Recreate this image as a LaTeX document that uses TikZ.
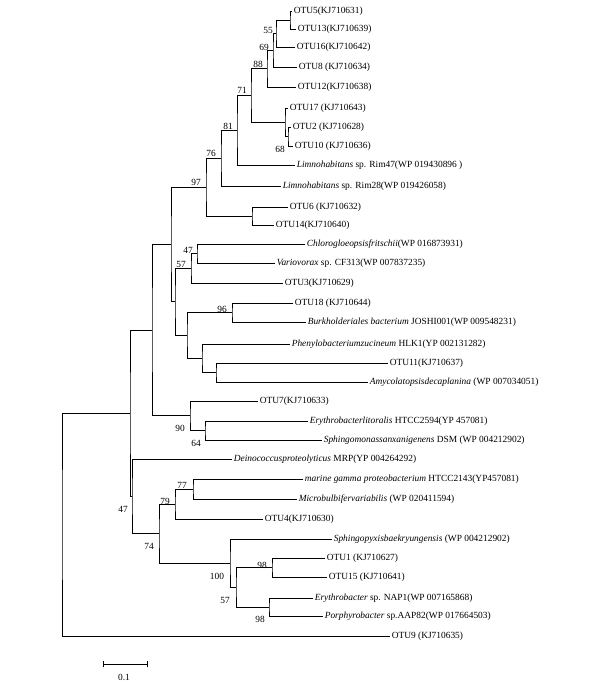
\documentclass[tikz,border=0pt]{standalone}
\usepackage{fontspec}
\setmainfont{Liberation Serif}
\begin{document}
\begin{tikzpicture}[x=1pt,y=-1pt,
  br/.style={line width=0.8pt,black},
  leaf/.style={anchor=west,inner sep=1.6pt,font=\fontsize{9.4}{11}\selectfont},
  bs/.style={inner sep=0pt,font=\fontsize{9.4}{11}\selectfont}]
\useasboundingbox (0,0) rectangle (604,687);
% leaves
\node[leaf] (otu5) at (292,11) {OTU5(KJ710631)};
\node[leaf] (otu13) at (296,29) {OTU13(KJ710639)};
\node[leaf] (otu16) at (295,47) {OTU16(KJ710642)};
\node[leaf] (otu8) at (297,67) {OTU8 (KJ710634)};
\node[leaf] (otu12) at (296,87) {OTU12(KJ710638)};
\node[leaf] (otu17) at (288,108) {OTU17 (KJ710643)};
\node[leaf] (otu2) at (291,127) {OTU2 (KJ710628)};
\node[leaf] (otu10) at (293,146) {OTU10 (KJ710636)};
\node[leaf] (rim47) at (295,165) {\itshape Limnohabitans\upshape{} sp. Rim47(WP 019430896 )};
\node[leaf] (rim28) at (281,186) {\itshape Limnohabitans\upshape{} sp. Rim28(WP 019426058)};
\node[leaf] (otu6) at (288,207) {OTU6 (KJ710632)};
\node[leaf] (otu14) at (274,225) {OTU14(KJ710640)};
\node[leaf] (chloro) at (305,244) {\itshape Chlorogloeopsisfritschii\upshape(WP 016873931)};
\node[leaf] (vario) at (275,263) {\itshape Variovorax\upshape{} sp. CF313(WP 007837235)};
\node[leaf] (otu3) at (283,283) {OTU3(KJ710629)};
\node[leaf] (otu18) at (293,303) {OTU18 (KJ710644)};
\node[leaf] (burk) at (306,322) {\itshape Burkholderiales bacterium\upshape{} JOSHI001(WP 009548231)};
\node[leaf] (pheny) at (290,344) {\itshape Phenylobacteriumzucineum\upshape{} HLK1(YP 002131282)};
\node[leaf] (otu11) at (388,363) {OTU11(KJ710637)};
\node[leaf] (amyco) at (368,382) {\itshape Amycolatopsisdecaplanina\upshape{} (WP 007034051)};
\node[leaf] (otu7) at (258,401) {OTU7(KJ710633)};
\node[leaf] (erylit) at (308,421) {\itshape Erythrobacterlitoralis\upshape{} HTCC2594(YP 457081)};
\node[leaf] (sphmon) at (322,440) {\itshape Sphingomonassanxanigenens\upshape{} DSM (WP 004212902)};
\node[leaf] (deino) at (232,459) {\itshape Deinococcusproteolyticus\upshape{} MRP(YP 004264292)};
\node[leaf] (marine) at (303,479) {\itshape marine gamma proteobacterium\upshape{} HTCC2143(YP457081)};
\node[leaf] (microb) at (297,499) {\itshape Microbulbifervariabilis\upshape{} (WP 020411594)};
\node[leaf] (otu4) at (263,519) {OTU4(KJ710630)};
\node[leaf] (sphpyx) at (332,539) {\itshape Sphingopyxisbaekryungensis\upshape{} (WP 004212902)};
\node[leaf] (otu1) at (325,558) {OTU1 (KJ710627)};
\node[leaf] (otu15) at (327,577) {OTU15 (KJ710641)};
\node[leaf] (nap1) at (313,598) {\itshape Erythrobacter\upshape{} sp. NAP1(WP 007165868)};
\node[leaf] (porph) at (323,616) {\itshape Porphyrobacter\upshape{} sp.AAP82(WP 017664503)};
\node[leaf] (otu9) at (390,636) {OTU9 (KJ710635)};
% internal nodes
\coordinate (nA) at (290,20);
\coordinate (nB) at (276,33.5);
\coordinate (nC) at (273,50.25);
\coordinate (nD) at (267,68.6);
\coordinate (nG) at (288,136.5);
\coordinate (nH) at (285,122.25);
\coordinate (nE) at (251,95.4);
\coordinate (nF) at (237,130.2);
\coordinate (nI) at (221,158.1);
\coordinate (nK) at (252,216);
\coordinate (nJ) at (206,187);
\coordinate (n47) at (197,253.5);
\coordinate (n57) at (191,268.25);
\coordinate (n96) at (232,312.5);
\coordinate (nW) at (216,372.5);
\coordinate (nU) at (202,358.25);
\coordinate (nT) at (187,335.4);
\coordinate (nS) at (175,301.8);
\coordinate (nM) at (171,244.4);
\coordinate (n64) at (205,430.5);
\coordinate (n90) at (190,415.75);
\coordinate (nR) at (152,330.1);
\coordinate (n77) at (193,489);
\coordinate (n79) at (175,504);
\coordinate (n98a) at (272,567.5);
\coordinate (n98b) at (269,607);
\coordinate (n57b) at (236,587.25);
\coordinate (n100) at (230,563.1);
\coordinate (n74) at (159,533.6);
\coordinate (nX) at (132,496.3);
\coordinate (nV) at (130,413.2);
\coordinate (root) at (62,524.6);
% branches
\draw[br] (otu5.west) -| (nA) |- (otu13.west);
\draw[br] (nA) -| (nB) |- (otu16.west);
\draw[br] (nB) -| (nC) |- (otu8.west);
\draw[br] (nC) -| (nD) |- (otu12.west);
\draw[br] (otu2.west) -| (nG) |- (otu10.west);
\draw[br] (otu17.west) -| (nH) |- (nG);
\draw[br] (nD) -| (nE) |- (nH);
\draw[br] (nE) -| (nF) |- (rim47.west);
\draw[br] (nF) -| (nI) |- (rim28.west);
\draw[br] (otu6.west) -| (nK) |- (otu14.west);
\draw[br] (nI) -| (nJ) |- (nK);
\draw[br] (chloro.west) -| (n47) |- (vario.west);
\draw[br] (n47) -| (n57) |- (otu3.west);
\draw[br] (otu18.west) -| (n96) |- (burk.west);
\draw[br] (otu11.west) -| (nW) |- (amyco.west);
\draw[br] (pheny.west) -| (nU) |- (nW);
\draw[br] (n96) -| (nT) |- (nU);
\draw[br] (n57) -| (nS) |- (nT);
\draw[br] (nJ) -| (nM) |- (nS);
\draw[br] (erylit.west) -| (n64) |- (sphmon.west);
\draw[br] (otu7.west) -| (n90) |- (n64);
\draw[br] (nM) -| (nR) |- (n90);
\draw[br] (marine.west) -| (n77) |- (microb.west);
\draw[br] (n77) -| (n79) |- (otu4.west);
\draw[br] (otu1.west) -| (n98a) |- (otu15.west);
\draw[br] (nap1.west) -| (n98b) |- (porph.west);
\draw[br] (n98a) -| (n57b) |- (n98b);
\draw[br] (sphpyx.west) -| (n100) |- (n57b);
\draw[br] (n79) -| (n74) |- (n100);
\draw[br] (deino.west) -| (nX) |- (n74);
\draw[br] (nR) -| (nV) |- (nX);
\draw[br] (nV) -| (root) |- (otu9.west);
% bootstrap values
\node[bs] (b55) at (268,30) {55};
\node[bs] (b69) at (264,47) {69};
\node[bs] (b88) at (258,64) {88};
\node[bs] (b71) at (242,90) {71};
\node[bs] (b81) at (228,126) {81};
\node[bs] (b76) at (211,153) {76};
\node[bs] (b97) at (196,182) {97};
\node[bs] (b68) at (280,149) {68};
\node[bs] (b47) at (188,250) {47};
\node[bs] (b57) at (181,264) {57};
\node[bs] (b96) at (222,309) {96};
\node[bs] (b90) at (180,428) {90};
\node[bs] (b64) at (196,443) {64};
\node[bs] (b77) at (182,485) {77};
\node[bs] (b79) at (165,501) {79};
\node[bs] (b47b) at (123,509) {47};
\node[bs] (b74) at (149,546) {74};
\node[bs] (b100) at (217,576) {100};
\node[bs] (b98a) at (262,565) {98};
\node[bs] (b57b) at (225,600) {57};
\node[bs] (b98b) at (260,619) {98};
% scale bar
\coordinate (sb1) at (103,664);
\coordinate (sb2) at (147,664);
\draw[br] (sb1) -- (sb2);
\draw[br] ([yshift=-3]sb1) -- ([yshift=3]sb1);
\draw[br] ([yshift=-3]sb2) -- ([yshift=3]sb2);
\node[bs] (sbl) at (124,677) {0.1};
\end{tikzpicture}
\end{document}
